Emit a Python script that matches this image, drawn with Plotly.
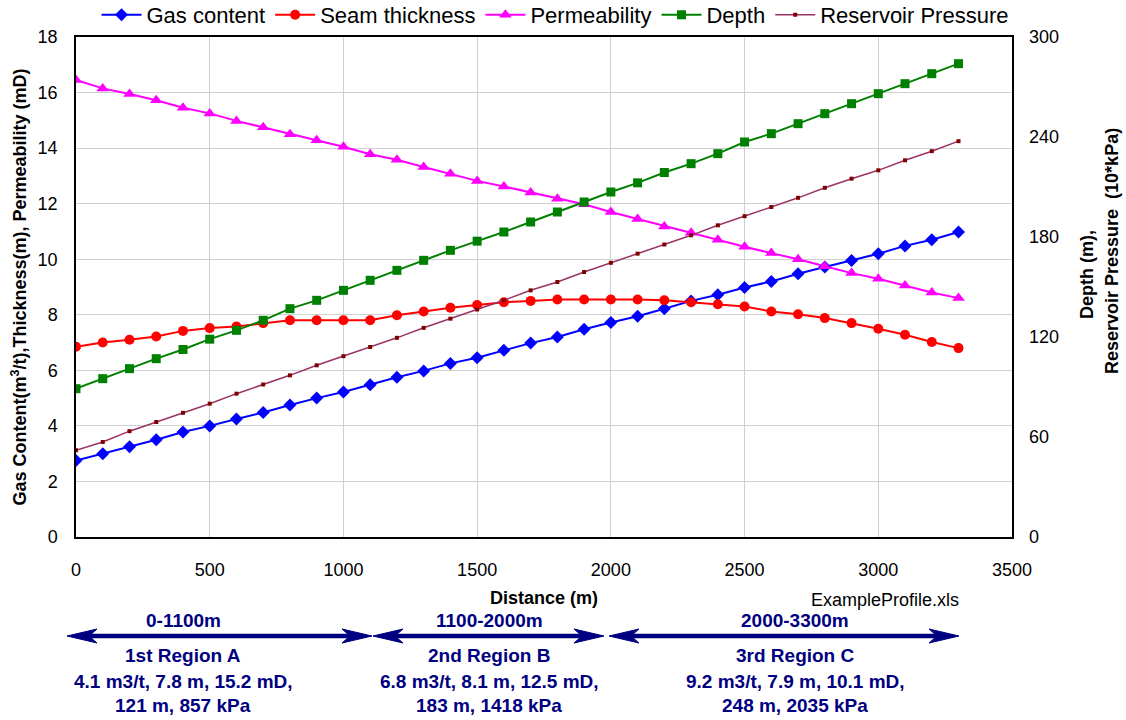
import plotly.graph_objects as go

distance = [0, 100, 200, 300, 400, 500, 600, 700, 800, 900, 1000, 1100, 1200, 1300, 1400, 1500, 1600,
            1700, 1800, 1900, 2000, 2100, 2200, 2300, 2400, 2500, 2600, 2700, 2800, 2900, 3000, 3100, 3200, 3300]
gas_content = [2.75, 3.0, 3.25, 3.5, 3.78, 4.0, 4.25, 4.48, 4.75, 5.0, 5.22, 5.48, 5.75, 5.98, 6.25, 6.45, 6.72,
               6.98, 7.2, 7.48, 7.72, 7.95, 8.22, 8.5, 8.72, 8.98, 9.2, 9.48, 9.72, 9.95, 10.2, 10.48, 10.7, 10.98]
seam_thickness = [6.85, 7.0, 7.1, 7.22, 7.42, 7.52, 7.58, 7.7, 7.8, 7.8, 7.8, 7.8, 7.98, 8.12, 8.25, 8.35, 8.45,
                  8.5, 8.55, 8.55, 8.55, 8.55, 8.52, 8.45, 8.38, 8.3, 8.12, 8.02, 7.88, 7.7, 7.5, 7.28, 7.02, 6.8]
permeability = [16.45, 16.15, 15.95, 15.72, 15.45, 15.25, 14.98, 14.75, 14.5, 14.28, 14.05, 13.78, 13.58, 13.32,
                13.08, 12.82, 12.62, 12.4, 12.18, 11.98, 11.7, 11.45, 11.18, 10.95, 10.7, 10.45, 10.22, 10.0,
                9.75, 9.5, 9.3, 9.05, 8.8, 8.6]
depth = [89, 95, 101, 107, 112.5, 118.7, 124, 130, 137, 142, 148, 154, 160, 166, 172, 177.5, 183, 189, 195,
         201, 207, 212.5, 218.7, 224, 230, 237, 242, 248, 254, 260, 266, 272, 278, 284]
reservoir_pressure = [52, 57, 63.5, 69, 74.5, 80, 86, 91.5, 97, 103, 108.5, 114, 119.5, 125.5, 131, 136.5, 142,
                      148, 153, 159, 164.5, 170, 175.5, 181, 187, 192.5, 198, 203.5, 209.5, 215, 220, 226,
                      231.5, 237.5]

region_ranges = ["0-1100m", "1100-2000m", "2000-3300m"]
region_names = ["1st Region A", "2nd Region B", "3rd Region C"]
region_stats1 = ["4.1 m3/t, 7.8 m, 15.2 mD,", "6.8 m3/t, 8.1 m, 12.5 mD,", "9.2 m3/t, 7.9 m, 10.1 mD,"]
region_stats2 = ["121 m, 857 kPa", "183 m, 1418 kPa", "248 m, 2035 kPa"]

x_ticks = [0, 500, 1000, 1500, 2000, 2500, 3000, 3500]
left_ticks = [0, 2, 4, 6, 8, 10, 12, 14, 16, 18]
right_ticks = [0, 60, 120, 180, 240, 300]

FONT = "Liberation Sans, Arial, sans-serif"
NAVY = "#000080"

fig = go.Figure()
fig.add_trace(go.Scatter(x=distance, y=gas_content, name="Gas content", mode="lines+markers",
                         line=dict(color="#0000FF", width=2),
                         marker=dict(symbol="diamond", size=10, color="#0000FF")))
fig.add_trace(go.Scatter(x=distance, y=seam_thickness, name="Seam thickness", mode="lines+markers",
                         line=dict(color="#FF0000", width=2),
                         marker=dict(symbol="circle", size=10, color="#FF0000")))
fig.add_trace(go.Scatter(x=distance, y=permeability, name="Permeability", mode="lines+markers",
                         line=dict(color="#FF00FF", width=2),
                         marker=dict(symbol="triangle-up", size=11, color="#FF00FF")))
fig.add_trace(go.Scatter(x=distance, y=depth, name="Depth", mode="lines+markers", yaxis="y2",
                         line=dict(color="#008000", width=2),
                         marker=dict(symbol="square", size=9, color="#008000")))
fig.add_trace(go.Scatter(x=distance, y=reservoir_pressure, name="Reservoir Pressure", mode="lines+markers",
                         yaxis="y2", line=dict(color="#993366", width=1.5),
                         marker=dict(symbol="square", size=4, color="#800000")))

# Body margin is removed by post_script below, so figure pixels == screenshot pixels.
W, H = 1126, 720
L, R, T, B = 76, 1012, 37, 537
PW, PH = R - L, B - T


def sx(p):
    return (p - L) / PW


def sy(p):
    return (B - p) / PH


def bold(size, color=NAVY):
    return dict(family=FONT, size=size, color=color, weight="bold")


def note(x, y, text, font, angle=0):
    return dict(x=sx(x), y=sy(y), xref="paper", yref="paper", text=text, showarrow=False,
                xanchor="center", yanchor="middle", textangle=angle, font=font)


annotations = []
shapes = []
center_x = [183, 489, 795]
arrows = [(67, 372), (373, 604), (609, 959)]
ARROW_Y = 636
for i in range(3):
    annotations.append(note(center_x[i], 620, region_ranges[i], bold(19)))
    annotations.append(note(center_x[i], 655, region_names[i], bold(19)))
    annotations.append(note(center_x[i], 681, region_stats1[i], bold(19)))
    annotations.append(note(center_x[i], 705, region_stats2[i], bold(19)))
    a0, a1 = arrows[i]
    shapes.append(dict(type="line", xref="paper", yref="paper", x0=sx(a0 + 20), x1=sx(a1 - 20),
                       y0=sy(ARROW_Y), y1=sy(ARROW_Y), line=dict(color=NAVY, width=4.5)))
    for tip, d in ((a0, 1), (a1, -1)):
        pts = [(tip, ARROW_Y), (tip + d * 30, ARROW_Y - 7), (tip + d * 22, ARROW_Y),
               (tip + d * 30, ARROW_Y + 7)]
        path = "M " + " L ".join(f"{sx(x):.5f},{sy(y):.5f}" for x, y in pts) + " Z"
        shapes.append(dict(type="path", xref="paper", yref="paper", path=path,
                           fillcolor=NAVY, line=dict(color=NAVY, width=1)))

annotations.append(note(885, 600, "ExampleProfile.xls", dict(family=FONT, size=18, color="black")))
annotations.append(note(1087, 275, "Depth (m),", bold(18, "black"), -90))
annotations.append(note(1112, 251, "Reservoir Pressure  (10*kPa)", bold(18, "black"), -90))

fig.update_layout(
    width=W, height=H,
    margin=dict(l=L, r=W - R, t=T, b=H - B, autoexpand=False),
    paper_bgcolor="white", plot_bgcolor="white",
    font=dict(family=FONT, color="black"),
    showlegend=True,
    legend=dict(orientation="h", x=sx(555), xanchor="center", y=sy(15), yanchor="middle",
                font=dict(family=FONT, size=22), bgcolor="rgba(0,0,0,0)",
                itemwidth=40, tracegroupgap=0),
    xaxis=dict(range=[0, 3500], tickvals=x_ticks, showgrid=True, gridcolor="#D0D0D0", gridwidth=1,
               showline=True, linecolor="black", linewidth=1.5, mirror=True, zeroline=False,
               ticks="", ticklabelstandoff=16, tickfont=dict(size=18), automargin=False,
               title=dict(text="Distance (m)", font=dict(size=18, weight="bold"), standoff=12)),
    yaxis=dict(range=[0, 18], tickvals=left_ticks, showgrid=True, gridcolor="#D0D0D0", gridwidth=1,
               showline=True, linecolor="black", linewidth=1.5, mirror=True, zeroline=False,
               ticks="", ticklabelstandoff=13, tickfont=dict(size=18), automargin=False,
               title=dict(text="Gas Content(m<sup>3</sup>/t),Thickness(m), Permeability (mD)",
                          font=dict(size=18, weight="bold"), standoff=6)),
    yaxis2=dict(range=[0, 300], tickvals=right_ticks, overlaying="y", side="right", showgrid=False,
                zeroline=False, showline=False, ticks="", ticklabelstandoff=16, tickfont=dict(size=18),
                automargin=False),
    annotations=annotations,
    shapes=shapes,
)

fig.write_html("out.html", config={"displayModeBar": False},
               post_script="document.body.style.margin='0px';")
